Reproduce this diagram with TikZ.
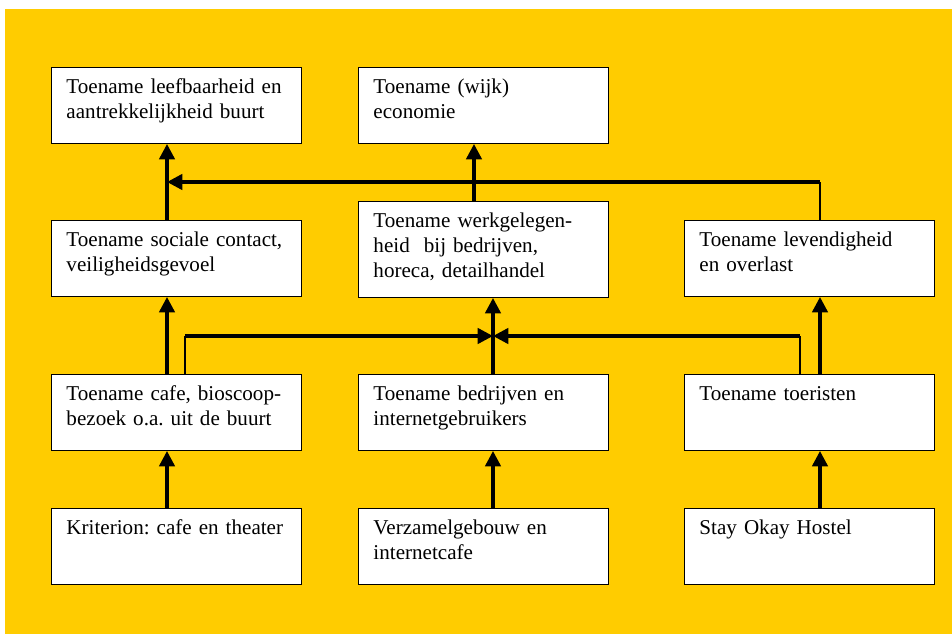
\documentclass[tikz,border=0pt]{standalone}
\usepackage{fontspec}
\setmainfont{Liberation Serif}
\usetikzlibrary{arrows.meta}
\definecolor{geel}{RGB}{255,204,0}
\frenchspacing
\tikzset{
  blok/.style={draw=black,line width=0.7pt,fill=white,anchor=north west,
    text width=5.5cm,inner xsep=0.375cm,inner ysep=0pt,align=left,
    text height=0.66cm,text depth=1.24cm,
    font=\fontsize{15}{17.5}\selectfont},
  hoog/.style={text depth=1.74cm},
  pijl/.style={line width=2.4pt,-{Triangle[length=11pt,width=11pt]}},
  dun/.style={line width=0.9pt}
}
\begin{document}
\begin{tikzpicture}
    \useasboundingbox (0,0) rectangle (23.8,-15.85);
    \fill[geel] (0.125,-0.225) rectangle (23.8,-15.85);
    % bovenste rij
    \node[blok] (leef) at (1.275,-1.675) {Toename leefbaarheid en\\aantrekkelijkheid buurt};
    \node[blok] (econ) at (8.95,-1.675) {Toename (wijk)\\economie};
    % tweede rij
    \node[blok] (sociaal) at (1.275,-5.5) {Toename sociale contact,\\veiligheidsgevoel};
    \node[blok,hoog] (werk) at (8.95,-5.025) {Toename werkgelegen-\\heid\ \ bij bedrijven,\\horeca, detailhandel};
    \node[blok] (levend) at (17.1,-5.5) {Toename levendigheid\\en overlast};
    % derde rij
    \node[blok] (cafe) at (1.275,-9.35) {Toename cafe, bioscoop-\\bezoek o.a. uit de buurt};
    \node[blok] (bedrijf) at (8.95,-9.35) {Toename bedrijven en\\internetgebruikers};
    \node[blok] (toerist) at (17.1,-9.35) {Toename toeristen};
    % onderste rij
    \node[blok] (krit) at (1.275,-12.7) {Kriterion: cafe en theater};
    \node[blok] (verzamel) at (8.95,-12.7) {Verzamelgebouw en\\internetcafe};
    \node[blok] (hostel) at (17.1,-12.7) {Stay Okay Hostel};
    % kolommen en knikpunten
    \coordinate (xa) at (4.175,0);
    \coordinate (xm) at (11.85,0);
    \coordinate (xb) at (12.325,0);
    \coordinate (xc) at (20.5,0);
    \coordinate (knik1) at (20.5,-4.55);
    \coordinate (knik2) at (4.625,-8.4);
    \coordinate (knik3) at (20,-8.4);
    % pijlen
    \draw[pijl] (sociaal.north -| xa) -- (leef.south -| xa);
    \draw[pijl] (werk.north -| xm) -- (econ.south -| xm);
    \draw[dun] (levend.north -| knik1) -- (knik1);
    \draw[pijl] (knik1) -- (knik1 -| xa);
    \draw[pijl] (cafe.north -| xa) -- (sociaal.south -| xa);
    \draw[pijl] (bedrijf.north -| xb) -- (werk.south -| xb);
    \draw[pijl] (toerist.north -| xc) -- (levend.south -| xc);
    \draw[dun] (cafe.north -| knik2) -- (knik2);
    \draw[pijl] (knik2) -- (knik2 -| xb);
    \draw[dun] (toerist.north -| knik3) -- (knik3);
    \draw[pijl] (knik3) -- (knik3 -| xb);
    \draw[pijl] (krit.north -| xa) -- (cafe.south -| xa);
    \draw[pijl] (verzamel.north -| xb) -- (bedrijf.south -| xb);
    \draw[pijl] (hostel.north -| xc) -- (toerist.south -| xc);
\end{tikzpicture}
\end{document}
